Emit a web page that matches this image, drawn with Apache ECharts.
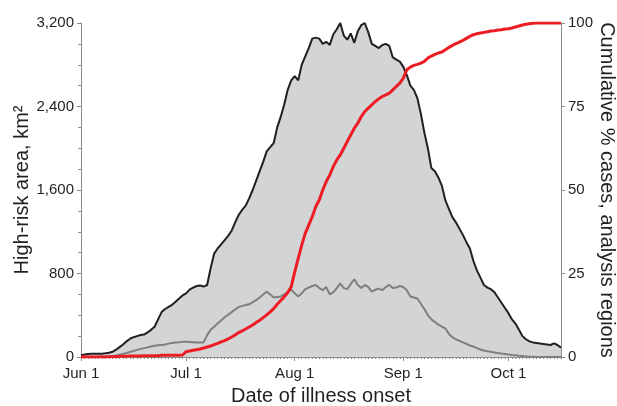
<!DOCTYPE html>
<html>
<head>
<meta charset="utf-8">
<script src="https://cdn.jsdelivr.net/npm/echarts@6/dist/echarts.min.js"></script>
<style>
html,body{margin:0;padding:0;background:#fff;}
#chart{width:617px;height:406px;}
</style>
</head>
<body>
<div id="chart"></div>
<script>
// Month layout of the daily x axis (Jun 1 .. Oct 16)
const months = ["Jun", "Jul", "Aug", "Sep", "Oct"];
const monthDays = [30, 31, 31, 30, 16];
const tickLabels = ["Jun 1", "Jul 1", "Aug 1", "Sep 1", "Oct 1"];

// High-risk area (km²), black outline with grey fill, one value per day from Jun 1
const highRiskArea = [
  15, 25, 28, 30, 30, 30, 32, 35, 40, 50,
  70, 95, 120, 150, 175, 190, 200, 210, 215, 235,
  260, 290, 360, 430, 460, 480, 500, 530, 560, 590,
  610, 645, 665, 680, 685, 675, 690, 850, 990, 1040,
  1080, 1120, 1160, 1210, 1290, 1360, 1410, 1450, 1520, 1600,
  1690, 1780, 1870, 1970, 2010, 2050, 2200, 2300, 2420, 2560,
  2650, 2690, 2650, 2800, 2880, 2960, 3050, 3060, 3050, 3000,
  3020, 2990, 3090, 3140, 3200, 3080, 3040, 3100, 3010, 3120,
  3180, 3200, 3110, 3000, 2980, 2960, 2990, 3000, 2980, 2870,
  2850, 2830, 2780, 2700, 2600, 2560, 2480, 2330, 2150, 2000,
  1810, 1780, 1720, 1640, 1500, 1420, 1340, 1290, 1230, 1170,
  1100, 1040, 920, 830, 760, 690, 665, 650, 620, 570,
  520, 470, 420, 360, 320, 260, 200, 170, 150, 140,
  135, 130, 125, 120, 115, 130, 115, 90
];

// Grey line (km²), one value per day from Jun 1
const greyArea = [
  0, 0, 0, 0, 0, 2, 3, 5, 8, 10,
  15, 22, 30, 38, 48, 58, 68, 78, 85, 92,
  100, 108, 112, 116, 120, 128, 135, 140, 142, 146,
  146, 144, 142, 140, 138, 140, 210, 260, 290, 320,
  350, 380, 405, 430, 455, 478, 490, 498, 505, 525,
  545, 570, 600, 625, 600, 570, 575, 580, 600, 620,
  645, 610, 580, 610, 650, 665, 680, 690, 660, 640,
  670, 600, 620, 660, 705, 660, 650, 700, 745, 690,
  660, 690, 670, 625, 645, 655, 640, 670, 690, 660,
  665, 680, 670, 640, 580, 570, 560, 510, 460, 400,
  360, 335, 310, 290, 275, 220, 190, 170, 155, 140,
  125, 110, 100, 85, 72, 62, 55, 50, 44, 38,
  33, 29, 25, 20, 16, 12, 9, 6, 3, 2,
  0, 0, 0, 0, 0, 0, 0, 0
];

// Cumulative % cases (right axis), one value per day from Jun 1
const cumulativePct = [
  0, 0, 0, 0, 0, 0, 0, 0, 0.1, 0.1,
  0.1, 0.2, 0.2, 0.2, 0.3, 0.3, 0.3, 0.3, 0.4, 0.4,
  0.4, 0.4, 0.4, 0.5, 0.5, 0.5, 0.5, 0.5, 0.5, 0.6,
  1.6, 1.8, 2.0, 2.2, 2.4, 2.7, 3.0, 3.3, 3.7, 4.1,
  4.5, 4.9, 5.4, 6.0, 6.6, 7.3, 7.8, 8.4, 9.0, 9.6,
  10.3, 11.0, 11.8, 12.6, 13.5, 14.5, 15.8, 16.9, 18.0, 19.3,
  21, 25.5, 29.5, 33.5, 37, 39.5, 42, 45, 47, 50,
  52.5, 54.5, 57, 59, 60.5, 62.5, 64.5, 66.5, 68.5, 70,
  72, 73.5, 74.5, 75.5, 76.5, 77.3, 78, 78.5, 79, 80,
  81, 82, 83.5, 86, 86.8, 87.3, 87.6, 88, 88.5, 89.5,
  90.1, 90.6, 91, 91.3, 92, 92.7, 93.3, 93.8, 94.3, 94.8,
  95.4, 96, 96.5, 96.8, 97, 97.2, 97.4, 97.6, 97.7, 97.9,
  98.0, 98.2, 98.3, 98.5, 98.8, 99.1, 99.4, 99.6, 99.8, 99.9,
  100, 100, 100, 100, 100, 100, 100, 100
];

// Build day categories from the month layout
const days = [];
months.forEach((m, i) => {
  for (let d = 1; d <= monthDays[i]; d++) days.push(m + " " + d);
});
const isMonthStart = (idx) => tickLabels.indexOf(days[idx]) >= 0;

const FONT = "Liberation Sans, Arial, Helvetica, sans-serif";
const TXT = "#231f20";
const AX = "#8a8a8a";

const chart = echarts.init(document.getElementById("chart"), null, { renderer: "canvas" });
chart.setOption({
  animation: false,
  backgroundColor: "#ffffff",
  textStyle: { fontFamily: FONT },
  grid: { left: 81, right: 56, top: 23, bottom: 49, containLabel: false, outerBoundsMode: "none" },
  xAxis: [
    {
      type: "category",
      data: days,
      boundaryGap: false,
      name: "Date of illness onset",
      nameLocation: "middle",
      nameGap: 29,
      nameMoveOverlap: false,
      nameTextStyle: { fontSize: 20, color: TXT, fontFamily: FONT },
      axisLine: { lineStyle: { color: AX, width: 1 } },
      axisTick: { show: true, interval: 0, length: 2, lineStyle: { color: AX } },
      axisLabel: { show: false },
      splitLine: { show: false }
    },
    {
      type: "category",
      data: days,
      boundaryGap: false,
      position: "bottom",
      axisLine: { show: false },
      axisTick: { show: true, interval: (idx) => isMonthStart(idx), length: 4, lineStyle: { color: AX } },
      axisLabel: {
        interval: (idx) => isMonthStart(idx),
        fontSize: 15, color: TXT, fontFamily: FONT, margin: 9
      },
      splitLine: { show: false }
    }
  ],
  yAxis: [
    {
      type: "value",
      min: 0, max: 3200, interval: 800,
      name: "High-risk area, km²",
      nameLocation: "middle",
      nameGap: 49,
      nameMoveOverlap: false,
      nameTextStyle: { fontSize: 20, color: TXT, fontFamily: FONT },
      axisLine: { show: true, lineStyle: { color: AX, width: 1 } },
      axisTick: { show: true, length: 4, lineStyle: { color: AX } },
      minorTick: { show: true, splitNumber: 4, length: 3, lineStyle: { color: AX } },
      axisLabel: {
        fontSize: 15, color: TXT, fontFamily: FONT, margin: 7,
        formatter: (v) => v.toLocaleString("en-US")
      },
      splitLine: { show: false }
    },
    {
      type: "value",
      min: 0, max: 100, interval: 25,
      position: "right",
      name: "Cumulative % cases, analysis regions",
      nameLocation: "middle",
      nameGap: 36,
      nameRotate: -90,
      nameMoveOverlap: false,
      nameTextStyle: { fontSize: 20, color: TXT, fontFamily: FONT },
      axisLine: { show: true, lineStyle: { color: AX, width: 1 } },
      axisTick: { show: true, length: 4, lineStyle: { color: AX } },
      axisLabel: { fontSize: 15, color: TXT, fontFamily: FONT, margin: 7 },
      splitLine: { show: false }
    }
  ],
  series: [
    {
      name: "High-risk area",
      type: "line",
      xAxisIndex: 0, yAxisIndex: 0,
      data: highRiskArea,
      symbol: "none",
      lineStyle: { color: "#231f20", width: 2 },
      areaStyle: { color: "#d3d4d6", opacity: 1 },
      z: 2
    },
    {
      name: "Grey line",
      type: "line",
      xAxisIndex: 0, yAxisIndex: 0,
      data: greyArea,
      symbol: "none",
      lineStyle: { color: "#7f7f7f", width: 2 },
      z: 3
    },
    {
      name: "Cumulative % cases",
      type: "line",
      xAxisIndex: 0, yAxisIndex: 1,
      data: cumulativePct,
      symbol: "none",
      lineStyle: { color: "#ec1c24", width: 3 },
      z: 4
    }
  ]
});
</script>
</body>
</html>
